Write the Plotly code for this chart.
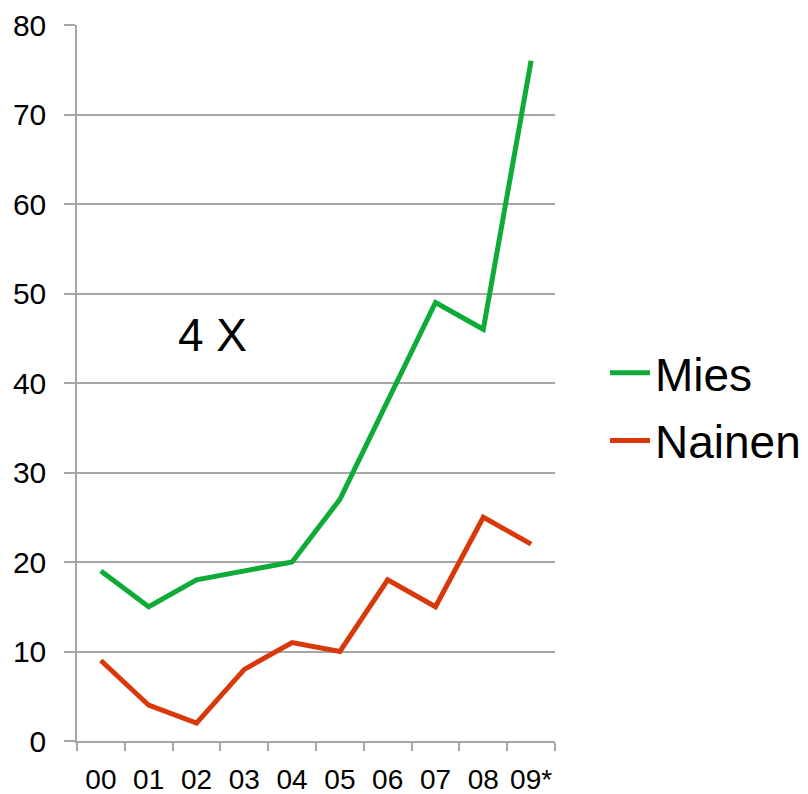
import plotly.graph_objects as go

years = ["00", "01", "02", "03", "04", "05", "06", "07", "08", "09*"]
mies = [19, 15, 18, 19, 20, 27, 38, 49, 46, 76]
nainen = [9, 4, 2, 8, 11, 10, 18, 15, 25, 22]
y_ticks = [0, 10, 20, 30, 40, 50, 60, 70, 80]

GREEN = "#0fab38"
RED = "#d9380a"
GRID = "#a6a6a6"
FONT = "Liberation Sans, Arial, sans-serif"

L, T, PW, PH = 69, 17, 478, 716

fig = go.Figure()
fig.add_trace(go.Scatter(x=years, y=mies, name="Mies", mode="lines",
                         legendgroup="m",
                         line=dict(color=GREEN, width=5)))
fig.add_trace(go.Scatter(x=years, y=nainen, name="Nainen", mode="lines",
                         legendgroup="n",
                         line=dict(color=RED, width=5)))

fig.update_layout(
    width=808, height=794,
    margin=dict(l=L, r=808 - L - PW, t=T, b=794 - T - PH, autoexpand=False),
    paper_bgcolor="white", plot_bgcolor="white",
    font=dict(family=FONT, color="black"),
    showlegend=True,
    legend=dict(x=(597 - L) / PW, y=0.4667, xanchor="left", yanchor="middle",
                font=dict(size=46, family=FONT),
                bgcolor="rgba(0,0,0,0)", itemwidth=40,
                traceorder="grouped", tracegroupgap=5),
    annotations=[dict(text="4 X", x=0.2845, y=0.567, xref="paper", yref="paper",
                      showarrow=False, font=dict(size=46, family=FONT),
                      xanchor="center", yanchor="middle")],
)
fig.update_xaxes(
    type="category", range=[-0.5, 9.5], tickson="boundaries", ticks="outside", ticklen=8,
    tickcolor=GRID, tickwidth=1.5, showline=True, linecolor=GRID, linewidth=1.5,
    showgrid=False, tickfont=dict(size=28, family=FONT), ticklabelstandoff=13,
    tickangle=0, automargin=False,
)
fig.update_yaxes(
    range=[0, 80], tickvals=y_ticks, ticks="outside", ticklen=11,
    tickcolor=GRID, tickwidth=1.5, showline=True, linecolor=GRID, linewidth=1.5,
    showgrid=True, gridcolor=GRID, gridwidth=1.5, zeroline=False,
    tickfont=dict(size=30, family=FONT), ticklabelstandoff=12,
    automargin=False,
)

fig.write_html("out.html")
